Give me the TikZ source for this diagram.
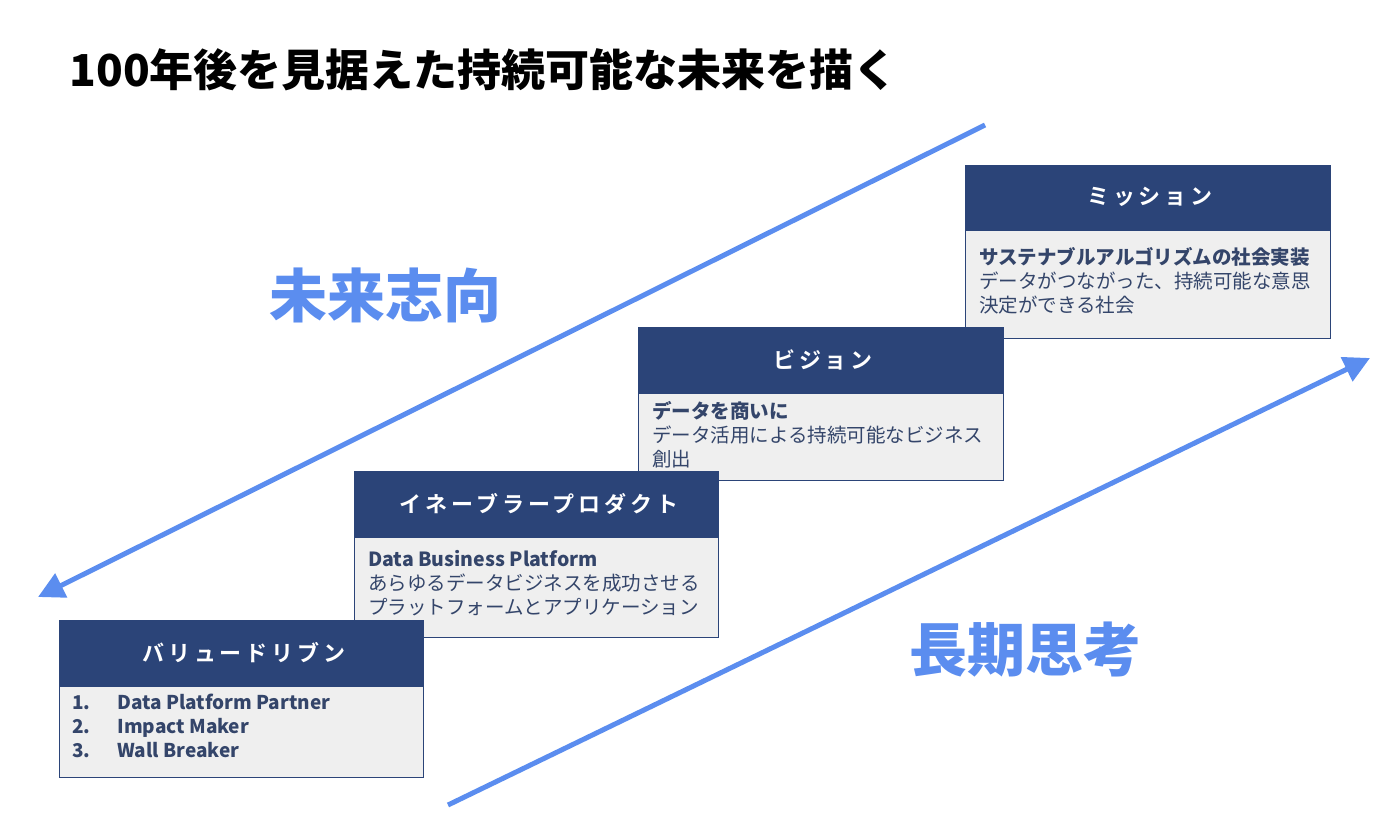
\documentclass[tikz,border=0pt]{standalone}
\usepackage{fontspec}
\setmainfont{Noto Sans CJK JP}
\newfontfamily\hdrfont[LetterSpace=18,BoldFont={Noto Sans CJK JP Bold}]{Noto Sans CJK JP}
\usetikzlibrary{arrows.meta}
\definecolor{navy}{HTML}{2B4478}
\definecolor{bodyg}{HTML}{EFEFEF}
\definecolor{arr}{HTML}{5B8DEF}
\definecolor{txt}{HTML}{34456A}
\tikzset{
 hdr/.style={fill=navy,draw=navy},
 hdrtxt/.style={text=white,font=\hdrfont\fontsize{22}{26}\selectfont\bfseries},
 bodybox/.style={fill=bodyg,draw=navy,line width=1pt},
 btxt/.style={anchor=north west,align=left,text=txt,font=\fontsize{19.5}{24}\selectfont,inner sep=0pt},
 bigarr/.style={draw=arr,line width=5pt,-{Triangle[length=26pt,width=26pt]}},
 big/.style={text=arr,font=\fontsize{58}{66}\selectfont\bfseries}
}
\begin{document}
\begin{tikzpicture}[x=1pt,y=-1pt]
\useasboundingbox (0,0) rectangle (1400,833);
\node[anchor=west,font=\fontsize{44}{50}\selectfont\bfseries] (title) at (66,70) {100年後を見据えた持続可能な未来を描く};
% arrows
\coordinate (a1s) at (985,125); \coordinate (a1e) at (38,597);
\draw[bigarr] (a1s) -- (a1e);
\coordinate (a2s) at (448,805); \coordinate (a2e) at (1370,358);
\draw[bigarr] (a2s) -- (a2e);
\node[big] (mirai) at (385,295) {未来志向};
\node[big] (choki) at (1025,650) {長期思考};
% mission
\draw[bodybox] (965,230) rectangle (1330,338);
\draw[hdr] (965,165) rectangle (1330,230);
\node[hdrtxt] (mh) at (1150,197) {ミッション};
\node[btxt] (mb) at (979,247) {\textbf{サステナブルアルゴリズムの社会実装}\\データがつながった、持続可能な意思\\決定ができる社会};
% vision
\draw[bodybox] (638,393) rectangle (1003,480);
\draw[hdr] (638,327) rectangle (1003,393);
\node[hdrtxt] (vh) at (823,360) {ビジョン};
\node[btxt] (vb) at (652,401) {\textbf{データを商いに}\\データ活用による持続可能なビジネス\\創出};
% enabler
\draw[bodybox] (354,537) rectangle (718,637);
\draw[hdr] (354,471) rectangle (718,537);
\node[hdrtxt] (eh) at (539,504) {イネーブラープロダクト};
\node[btxt] (eb) at (368,550) {\textbf{Data Business Platform}\\あらゆるデータビジネスを成功させる\\プラットフォームとアプリケーション};
% value
\draw[bodybox] (59,686) rectangle (423,777);
\draw[hdr] (59,620) rectangle (423,686);
\node[hdrtxt] (dh) at (244,653) {バリュードリブン};
\node[btxt,font=\fontsize{19}{24}\selectfont\bfseries] (db) at (72,694) {1.\hspace{27pt}Data Platform Partner\\2.\hspace{27pt}Impact Maker\\3.\hspace{27pt}Wall Breaker};
\end{tikzpicture}
\end{document}
